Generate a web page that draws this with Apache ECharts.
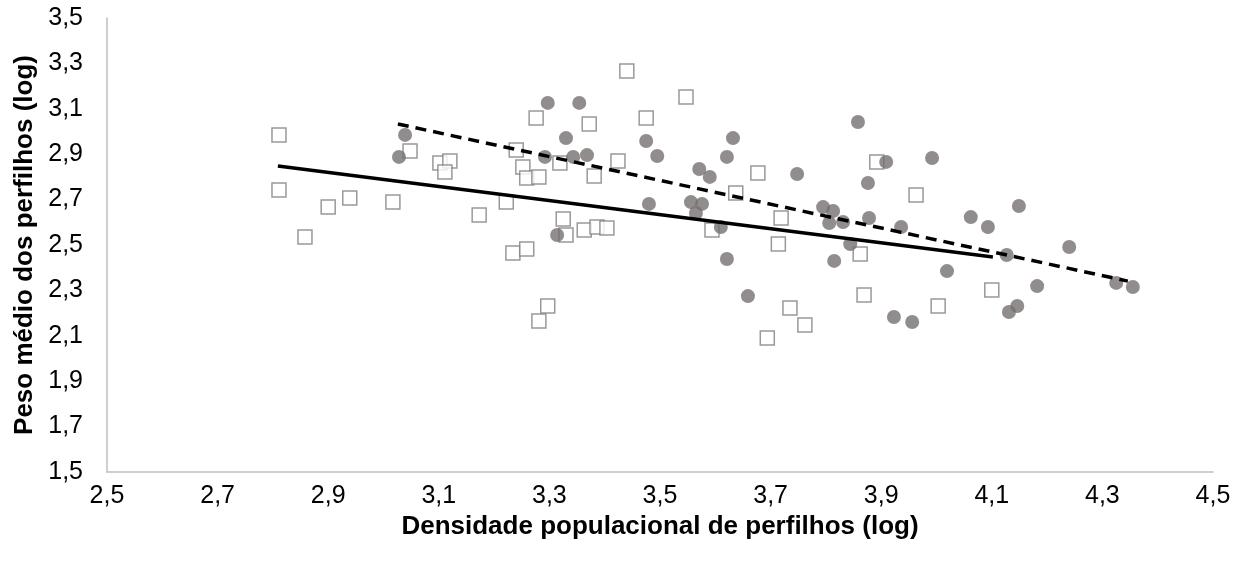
<!DOCTYPE html>
<html>
<head>
<meta charset="utf-8">
<script src="https://cdn.jsdelivr.net/npm/echarts@6/dist/echarts.min.js"></script>
<style>
  html, body { margin: 0; padding: 0; background: #fff; }
  #chart { width: 1248px; height: 562px; }
</style>
</head>
<body>
<div id="chart"></div>
<script>
// Group A (open squares): [density log, mean tiller weight log]
const squaresData = [
  [2.811, 2.985], [2.811, 2.742], [2.858, 2.535], [2.900, 2.667], [2.939, 2.707],
  [3.017, 2.689], [3.048, 2.914], [3.102, 2.861], [3.120, 2.870], [3.111, 2.822],
  [3.173, 2.632], [3.222, 2.689], [3.276, 3.059], [3.240, 2.919], [3.252, 2.844],
  [3.259, 2.795], [3.281, 2.800], [3.319, 2.861], [3.325, 2.615], [3.330, 2.544],
  [3.234, 2.465], [3.259, 2.482], [3.297, 2.231], [3.281, 2.165], [3.440, 3.267],
  [3.547, 3.152], [3.372, 3.033], [3.475, 3.059], [3.424, 2.870], [3.381, 2.804],
  [3.363, 2.566], [3.386, 2.579], [3.404, 2.575], [3.594, 2.566], [3.637, 2.729],
  [3.677, 2.817], [3.719, 2.619], [3.714, 2.504], [3.735, 2.222], [3.762, 2.148],
  [3.694, 2.090], [3.862, 2.460], [3.869, 2.280], [3.892, 2.866], [3.963, 2.720],
  [4.100, 2.302], [4.003, 2.231]
];

// Group B (filled circles)
const circlesData = [
  [3.297, 3.126], [3.354, 3.126], [3.039, 2.985], [3.028, 2.888], [3.330, 2.971],
  [3.292, 2.888], [3.343, 2.888], [3.314, 2.544], [3.368, 2.896], [3.475, 2.958],
  [3.495, 2.892], [3.480, 2.681], [3.571, 2.835], [3.590, 2.800], [3.632, 2.971],
  [3.621, 2.888], [3.556, 2.689], [3.576, 2.681], [3.565, 2.641], [3.610, 2.579],
  [3.621, 2.438], [3.659, 2.275], [3.748, 2.813], [3.858, 3.042], [3.876, 2.773],
  [3.795, 2.667], [3.813, 2.650], [3.806, 2.597], [3.831, 2.601], [3.878, 2.619],
  [3.844, 2.504], [3.815, 2.430], [3.909, 2.866], [3.992, 2.883], [3.936, 2.579],
  [4.062, 2.623], [4.093, 2.579], [4.149, 2.672], [4.240, 2.491], [4.127, 2.456],
  [4.019, 2.385], [4.182, 2.319], [4.325, 2.333], [4.355, 2.315], [4.146, 2.231],
  [4.131, 2.205], [3.923, 2.183], [3.956, 2.161]
];

// Linear trend lines (end points)
const trendSquares = [[2.809, 2.848], [4.102, 2.447]];
const trendCircles = [[3.026, 3.033], [4.346, 2.341]];

// Axis ranges and tick step
const xRange = [2.5, 4.5];
const yRange = [1.5, 3.5];
const tickStep = 0.2;

const xTitle = 'Densidade populacional de perfilhos (log)';
const yTitle = 'Peso médio dos perfilhos (log)';

const fmt = v => v.toFixed(1).replace('.', ',');
const font = '"Liberation Sans", Arial, sans-serif';

const chart = echarts.init(document.getElementById('chart'), null, { renderer: 'canvas' });
chart.setOption({
  animation: false,
  backgroundColor: '#ffffff',
  grid: { left: 107, right: 35, top: 18, bottom: 90 },
  xAxis: {
    type: 'value',
    min: xRange[0], max: xRange[1], interval: tickStep,
    name: xTitle,
    nameLocation: 'middle',
    nameGap: 33,
    nameTextStyle: { fontFamily: font, fontSize: 26, fontWeight: 'bold', color: '#000' },
    axisLine: { show: true, lineStyle: { color: '#bfbfbf', width: 1.5 } },
    axisTick: { show: false },
    splitLine: { show: false },
    axisLabel: { formatter: fmt, fontFamily: font, fontSize: 25, color: '#000', margin: 12 }
  },
  yAxis: {
    type: 'value',
    min: yRange[0], max: yRange[1], interval: tickStep,
    name: yTitle,
    nameLocation: 'middle',
    nameGap: 67,
    nameTextStyle: { fontFamily: font, fontSize: 26, fontWeight: 'bold', color: '#000' },
    axisLine: { show: true, lineStyle: { color: '#bfbfbf', width: 1.5 } },
    axisTick: { show: false },
    splitLine: { show: false },
    axisLabel: { formatter: fmt, fontFamily: font, fontSize: 25, color: '#000', margin: 24 }
  },
  series: [
    {
      type: 'scatter',
      data: squaresData,
      symbol: 'rect',
      symbolSize: 14,
      itemStyle: { color: '#ffffff', borderColor: '#808080', borderWidth: 1.5 },
      z: 3
    },
    {
      type: 'scatter',
      data: circlesData,
      symbol: 'circle',
      symbolSize: 14,
      itemStyle: { color: '#767171' },
      z: 3
    },
    {
      type: 'line',
      data: trendSquares,
      symbol: 'none',
      lineStyle: { color: '#000', width: 3.5, type: 'solid' },
      z: 4
    },
    {
      type: 'line',
      data: trendCircles,
      symbol: 'none',
      lineStyle: { color: '#000', width: 3.5, type: [11, 7] },
      z: 4
    }
  ]
});
</script>
</body>
</html>
